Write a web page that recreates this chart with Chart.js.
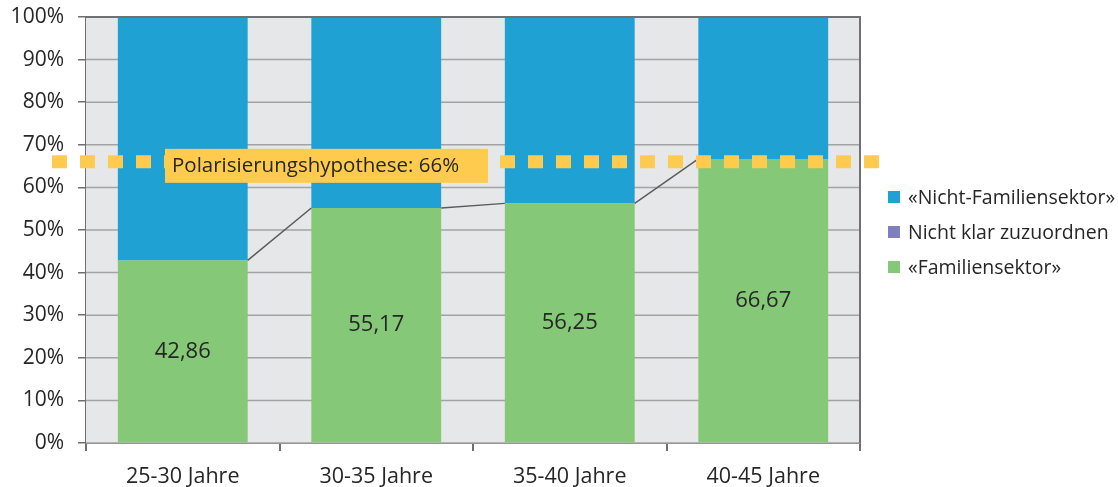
<!DOCTYPE html>
<html lang="de">
<head>
<meta charset="utf-8">
<title>Polarisierungshypothese</title>
<script src="https://cdn.jsdelivr.net/npm/chart.js@4.4.1/dist/chart.umd.min.js"></script>
<style>
  html, body { margin: 0; padding: 0; background: #ffffff; }
  #wrap { width: 1118px; height: 487px; position: relative; }
</style>
</head>
<body>
<div id="wrap"><canvas id="chart" width="1118" height="487"></canvas></div>
<script>
// Altersgruppen
const categories = ['25-30 Jahre', '30-35 Jahre', '35-40 Jahre', '40-45 Jahre'];
// Anteile in Prozent
const familiensektor = [42.86, 55.17, 56.25, 66.67];
const nichtKlar = [0, 0, 0, 0];
const nichtFamiliensektor = [57.14, 44.83, 43.75, 33.33];
// Hypothesenwert
const hypotheseWert = 66;
const hypotheseText = 'Polarisierungshypothese: 66%';
const yTicks = [0, 10, 20, 30, 40, 50, 60, 70, 80, 90, 100];

const FONT = '"Open Sans", "DejaVu Sans", sans-serif';
const TEXT = '#262626';
const AXIS = '#707070';

const fmt = v => v.toFixed(2).replace('.', ',');

// Plot background, frame, connector lines, value labels, hypothesis line and legend
const decor = {
  id: 'decor',
  beforeDatasetsDraw(chart) {
    const { ctx, chartArea: a } = chart;
    ctx.save();
    ctx.fillStyle = '#e6e7e8';
    ctx.fillRect(a.left, a.top, a.right - a.left, a.bottom - a.top);
    // horizontal grid on top of the fill
    const y = chart.scales.y;
    ctx.strokeStyle = '#a3a3a3';
    ctx.lineWidth = 1.5;
    yTicks.forEach(t => {
      const py = y.getPixelForValue(t);
      ctx.beginPath();
      ctx.moveTo(a.left, py);
      ctx.lineTo(a.right, py);
      ctx.stroke();
    });
    ctx.restore();
  },
  afterDatasetsDraw(chart) {
    const { ctx, chartArea: a } = chart;
    const y = chart.scales.y;
    ctx.save();
    // frame top and right
    ctx.strokeStyle = AXIS;
    ctx.lineWidth = 2;
    ctx.beginPath();
    ctx.moveTo(a.left, a.top);
    ctx.lineTo(a.right, a.top);
    ctx.lineTo(a.right, a.bottom);
    ctx.stroke();

    // connector lines between the tops of the green bars
    const bars = chart.getDatasetMeta(0).data;
    ctx.strokeStyle = '#5c5c5c';
    ctx.lineWidth = 1.5;
    for (let i = 0; i < bars.length - 1; i++) {
      const b = bars[i], n = bars[i + 1];
      ctx.beginPath();
      ctx.moveTo(b.x + b.width / 2, b.y);
      ctx.lineTo(n.x - n.width / 2, n.y);
      ctx.stroke();
    }

    // values inside the green bars
    ctx.fillStyle = TEXT;
    ctx.font = '22px ' + FONT;
    ctx.textAlign = 'center';
    ctx.textBaseline = 'middle';
    bars.forEach((b, i) => {
      ctx.fillText(fmt(familiensektor[i]), b.x, (b.y + b.base) / 2);
    });

    // hypothesis line
    const hy = y.getPixelForValue(hypotheseWert);
    ctx.strokeStyle = '#fecb4f';
    ctx.lineWidth = 13;
    ctx.setLineDash([15, 13]);
    ctx.beginPath();
    ctx.moveTo(a.left - 34, hy);
    ctx.lineTo(a.right + 21, hy);
    ctx.stroke();
    ctx.setLineDash([]);

    // hypothesis label box
    ctx.font = '20.5px ' + FONT;
    const bx = a.left + 79, by = hy - 13;
    ctx.fillStyle = '#fecb4f';
    ctx.fillRect(bx, by, 323, 34);
    ctx.fillStyle = TEXT;
    ctx.textAlign = 'left';
    ctx.textBaseline = 'middle';
    ctx.fillText(hypotheseText, bx + 7, by + 17);

    // legend (top series first)
    const items = [2, 1, 0].map(i => chart.data.datasets[i]);
    ctx.font = '19.5px ' + FONT;
    items.forEach((d, k) => {
      const cy = 197 + k * 35;
      ctx.fillStyle = d.backgroundColor;
      ctx.fillRect(a.right + 28, cy - 6, 12, 12);
      ctx.fillStyle = TEXT;
      ctx.fillText(d.label, a.right + 48, cy + 1);
    });
    ctx.restore();
  }
};

new Chart(document.getElementById('chart'), {
  type: 'bar',
  data: {
    labels: categories,
    datasets: [
      { label: '«Familiensektor»', data: familiensektor, backgroundColor: '#85c877' },
      { label: 'Nicht klar zuzuordnen', data: nichtKlar, backgroundColor: '#7f7fbf' },
      { label: '«Nicht-Familiensektor»', data: nichtFamiliensektor, backgroundColor: '#1fa1d3' }
    ]
  },
  options: {
    responsive: false,
    animation: false,
    devicePixelRatio: 1,
    layout: { padding: { top: 17, right: 258, left: 0, bottom: 0 } },
    datasets: { bar: { categoryPercentage: 1, barPercentage: 0.671, borderWidth: 0 } },
    plugins: { legend: { display: false }, tooltip: { enabled: false } },
    scales: {
      x: {
        stacked: true,
        offset: true,
        afterFit(s) { s.height = 44; s.paddingLeft = 0; s.paddingRight = 0; },
        grid: { offset: true, drawOnChartArea: false, tickLength: 8, tickColor: AXIS, lineWidth: 2 },
        border: { color: AXIS, width: 2 },
        ticks: { color: TEXT, font: { family: FONT, size: 21.5 }, padding: 13, maxRotation: 0 }
      },
      y: {
        stacked: true,
        min: 0,
        max: 100,
        afterFit(s) { s.width = 86; s.paddingTop = 0; s.paddingBottom = 0; },
        afterBuildTicks(s) { s.ticks = yTicks.map(v => ({ value: v })); },
        grid: { color: '#a3a3a3', lineWidth: 1.5, tickLength: 8, tickColor: AXIS },
        border: { color: AXIS, width: 2 },
        ticks: { color: TEXT, font: { family: FONT, size: 21 }, padding: 14, callback: v => v + '%' }
      }
    }
  },
  plugins: [decor]
});
</script>
</body>
</html>
